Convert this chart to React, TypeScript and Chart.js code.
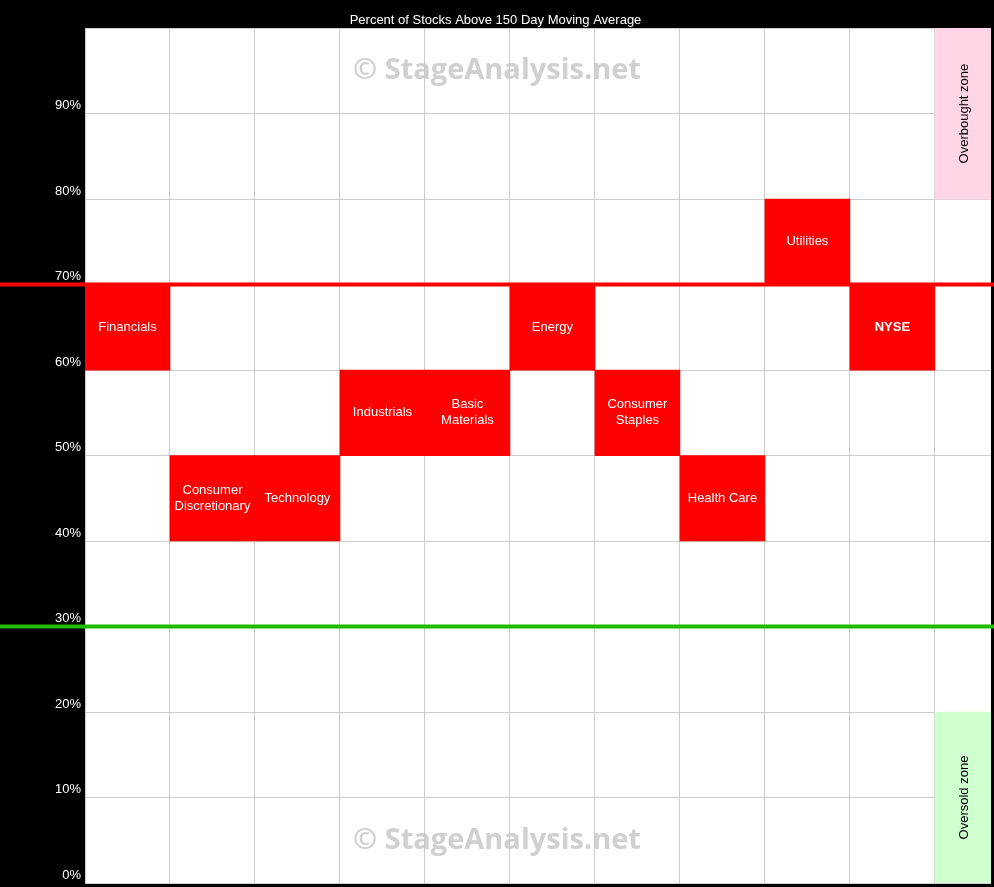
import { useEffect, useRef } from 'react';
import { Chart, registerables } from 'chart.js';

Chart.register(...registerables);

const TITLE = 'Percent of Stocks Above 150 Day Moving Average';
const WATERMARK = '© StageAnalysis.net';

// sector cells: column index, band low/high (%)
const sectorNames = ['Financials', 'Consumer Discretionary', 'Technology', 'Industrials', 'Basic Materials', 'Energy', 'Consumer Staples', 'Health Care', 'Utilities', 'NYSE'];
const sectorLabelLines = [['Financials'], ['Consumer', 'Discretionary'], ['Technology'], ['Industrials'], ['Basic', 'Materials'], ['Energy'], ['Consumer', 'Staples'], ['Health Care'], ['Utilities'], ['NYSE']];
const sectorColumn = [0, 1, 2, 3, 4, 5, 6, 7, 8, 9];
const bandLow = [60, 40, 40, 50, 50, 60, 50, 40, 70, 60];
const bandHigh = [70, 50, 50, 60, 60, 70, 60, 50, 80, 70];

// zones in the last column
const zoneNames = ['Overbought zone', 'Oversold zone'];
const zoneColumn = [10, 10];
const zoneLow = [80, 0];
const zoneHigh = [100, 20];

const overboughtLevel = 70;
const oversoldLevel = 30;
const watermarkLevels = [95, 5];
const xMax = 10.66;
const yMin = 0;
const yMax = 100;

const FONT = '"Liberation Sans", Arial, sans-serif';
const BOLD_LABELS = new Set(['NYSE']);

const decorPlugin = {
  id: 'decor',
  beforeDraw(chart: any) {
    const { ctx, chartArea: a } = chart;
    ctx.save();
    ctx.fillStyle = '#000';
    ctx.fillRect(0, 0, chart.width, chart.height);
    ctx.fillStyle = '#fff';
    ctx.fillRect(a.left, a.top, a.right - a.left, a.bottom - a.top);
    ctx.restore();
  },
  beforeDatasetsDraw(chart: any) {
    const { ctx } = chart;
    const ys = chart.scales.y;
    ctx.save();
    ctx.fillStyle = 'rgba(200,200,200,0.85)';
    ctx.font = `bold 29px "Open Sans", ${FONT}`;
    ctx.textAlign = 'center';
    ctx.textBaseline = 'middle';
    watermarkLevels.forEach((lv) => {
      ctx.fillText(WATERMARK, chart.width / 2, ys.getPixelForValue(lv));
    });
    ctx.restore();
  },
  afterDatasetsDraw(chart: any) {
    const { ctx, chartArea: a } = chart;
    const xs = chart.scales.x;
    const ys = chart.scales.y;
    ctx.save();
    ctx.textAlign = 'center';
    ctx.textBaseline = 'middle';
    ctx.fillStyle = '#fff';
    sectorLabelLines.forEach((lines, i) => {
      ctx.font = `${BOLD_LABELS.has(sectorNames[i]) ? 'bold ' : ''}13px ${FONT}`;
      const cx = xs.getPixelForValue(sectorColumn[i] + 0.5);
      const cy = ys.getPixelForValue((bandLow[i] + bandHigh[i]) / 2);
      const lh = 16;
      lines.forEach((t, k) => {
        ctx.fillText(t, cx, cy + (k - (lines.length - 1) / 2) * lh);
      });
    });
    ctx.fillStyle = '#000';
    ctx.font = `13px ${FONT}`;
    zoneNames.forEach((t, i) => {
      const left = xs.getPixelForValue(zoneColumn[i]);
      const right = Math.min(a.right, xs.getPixelForValue(zoneColumn[i] + 1));
      const cx = (left + right) / 2 + 1;
      const cy = ys.getPixelForValue((zoneLow[i] + zoneHigh[i]) / 2);
      ctx.save();
      ctx.translate(cx, cy);
      ctx.rotate(-Math.PI / 2);
      ctx.fillText(t, 0, 0);
      ctx.restore();
    });
    ctx.restore();
  },
};

export default function App() {
  const ref = useRef<HTMLCanvasElement | null>(null);
  useEffect(() => {
    if (!ref.current) return;
    const chart = new Chart(ref.current, {
      type: 'bar',
      data: {
        datasets: [
          {
            type: 'line',
            label: 'Overbought line',
            data: [{ x: -1, y: overboughtLevel }, { x: 12, y: overboughtLevel }],
            borderColor: '#ff0000',
            borderWidth: 4,
            pointRadius: 0,
            clip: false,
            order: 0,
          } as any,
          {
            type: 'line',
            label: 'Oversold line',
            data: [{ x: -1, y: oversoldLevel }, { x: 12, y: oversoldLevel }],
            borderColor: '#22bb00',
            borderWidth: 4,
            pointRadius: 0,
            clip: false,
            order: 0,
          } as any,
          {
            label: 'Sectors',
            data: sectorNames.map((_, i) => ({ x: sectorColumn[i] + 0.5, y: [bandLow[i], bandHigh[i]] })),
            backgroundColor: '#ff0000',
            borderWidth: 0,
            barPercentage: 1,
            categoryPercentage: 1,
            grouped: false,
            order: 2,
          } as any,
          {
            label: 'Zones',
            data: zoneNames.map((_, i) => ({ x: zoneColumn[i] + 0.5, y: [zoneLow[i], zoneHigh[i]] })),
            backgroundColor: ['#ffd6e6', '#d0ffd0'],
            borderWidth: 0,
            barPercentage: 1,
            categoryPercentage: 1,
            grouped: false,
            order: 3,
          } as any,
        ],
      },
      options: {
        animation: false,
        responsive: false,
        events: [],
        layout: { padding: { top: 0, right: 3, bottom: 4, left: 0 } },
        plugins: {
          legend: { display: false },
          tooltip: { enabled: false },
          title: {
            display: true,
            text: TITLE,
            color: '#fff',
            font: { family: FONT, size: 13, weight: 'normal' },
            padding: { top: 12.5, bottom: 0 },
          },
        },
        scales: {
          x: {
            type: 'linear',
            min: 0,
            max: xMax,
            offset: false,
            afterFit: (s: any) => { s.height = 0; s.paddingLeft = 0; s.paddingRight = 0; },
            ticks: { display: false, stepSize: 1, includeBounds: false },
            grid: { color: '#cccccc', drawTicks: false, lineWidth: 1, offset: false },
            border: { display: false },
          },
          y: {
            type: 'linear',
            min: yMin,
            max: yMax,
            afterFit: (s: any) => { s.width = 85; s.paddingTop = 0; s.paddingBottom = 0; },
            ticks: {
              stepSize: 10,
              color: '#fff',
              font: { family: FONT, size: 13 },
              padding: 4,
              labelOffset: -8,
              callback: (v: any) => (v >= 100 ? '' : `${v}%`),
            },
            grid: { color: '#cccccc', drawTicks: false, lineWidth: 1 },
            border: { display: false },
          },
        },
      } as any,
      plugins: [decorPlugin],
    });
    return () => chart.destroy();
  }, []);
  return (
    <div style={{ position: 'fixed', left: 0, top: 0, width: 994, height: 887, background: '#000' }}>
      <canvas ref={ref} width={994} height={887} style={{ display: 'block', width: 994, height: 887 }} />
    </div>
  );
}
